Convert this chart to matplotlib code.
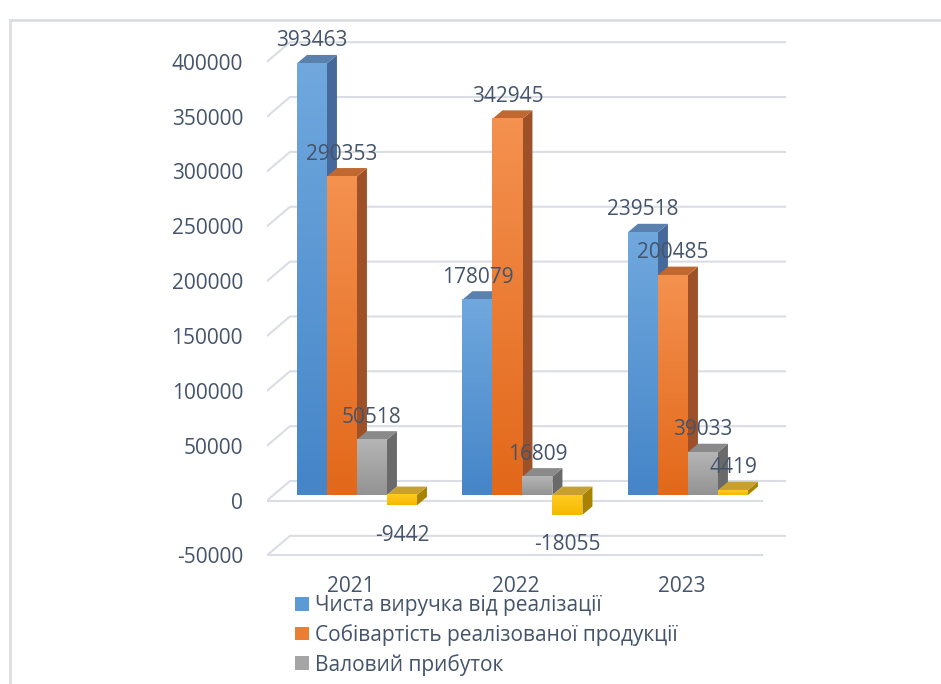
import numpy as np
import matplotlib.pyplot as plt
from matplotlib.patches import Polygon, Rectangle, Patch
from matplotlib.colors import LinearSegmentedColormap

# --- data ---
years = ["2021", "2022", "2023"]
series_names = ["Чиста виручка від реалізації",
                "Собівартість реалізованої продукції",
                "Валовий прибуток",
                "Чистий фінансовий результат"]
revenue = [393463, 178079, 239518]
cost = [290353, 342945, 200485]
gross = [50518, 16809, 39033]
net = [-9442, -18055, 4419]
yticks = list(range(-50000, 400001, 50000))

# front gradient (bottom, top), side, top colours per series
front_cols = [("#4585C8", "#70A8DE"), ("#E2681A", "#F4914F"),
              ("#939393", "#B5B5B5"), ("#F5B800", "#FFCB22")]
side_cols = ["#44699A", "#9E5128", "#6A6A6A", "#A88300"]
top_cols = ["#5A80AE", "#C0682F", "#8A8A8A", "#C8A032"]
legend_cols = ["#5B9BD5", "#ED7D31", "#A5A5A5"]
TXT = "#44546A"
GRID = "#DADDE3"

plt.rcParams["font.family"] = ["Open Sans", "DejaVu Sans"]
FS = 15

W, H = 941, 684
fig = plt.figure(figsize=(W / 100, H / 100), dpi=100)

# layout in pixels -> axes limits
X0PX, XSTEP = 350.5, 165.5      # front-plane centre of first group, group spacing
Y0PX, YSCALE = 500.5, 0.001097  # front-plane zero, px per unit
ax_l, ax_r, ax_t, ax_b = 267, 790, 20, 570
ax = fig.add_axes([ax_l / W, 1 - ax_b / H, (ax_r - ax_l) / W, (ax_b - ax_t) / H])
xlim = ((ax_l - X0PX) / XSTEP, (ax_r - X0PX) / XSTEP)
ylim = ((Y0PX - ax_b) / YSCALE, (Y0PX - ax_t) / YSCALE)

DX = 23 / XSTEP       # wall depth in x units
DY = 19.5 / YSCALE    # wall depth in value units


def proj(x, v, d):
    return (x + d * DX, v + d * DY)


# gridlines: left diagonal + back wall line, front floor lines at 0 and min
xl = xlim[0]
xr = (762 - X0PX) / XSTEP
for v in yticks:
    p0, p1, p2 = proj(xl, v, 0), proj(xl, v, 1), proj(xr, v, 1)
    ax.plot([p0[0], p1[0], p2[0]], [p0[1], p1[1], p2[1]], color=GRID, lw=1.5, zorder=1,
            solid_joinstyle="miter")
for v in (0, yticks[0]):
    p0, p1 = proj(xl, v, 0), proj(xr, v, 0)
    ax.plot([p0[0], p1[0]], [p0[1], p1[1]], color=GRID, lw=1.5, zorder=1)

# bars
bw = 30 / XSTEP
fb = 0.28            # depth position of bar fronts
bd = 10 / 23         # bar depth
series = [revenue, cost, gross, net]
z = 2
for c in range(len(years)):
    for i, vals in enumerate(series):
        v = vals[c]
        left = c - 2 * bw + i * bw
        lo, hi = min(0, v), max(0, v)
        side = [proj(left + bw, lo, fb), proj(left + bw, lo, fb + bd),
                proj(left + bw, hi, fb + bd), proj(left + bw, hi, fb)]
        top = [proj(left, hi, fb), proj(left + bw, hi, fb),
               proj(left + bw, hi, fb + bd), proj(left, hi, fb + bd)]
        ax.add_patch(Polygon(side, closed=True, facecolor=side_cols[i], edgecolor="none", zorder=z))
        ax.add_patch(Polygon(top, closed=True, facecolor=top_cols[i], edgecolor="none", zorder=z))
        fx0, fy0 = proj(left, lo, fb)
        fx1, fy1 = proj(left + bw, hi, fb)
        cmap = LinearSegmentedColormap.from_list("g%d" % i, list(front_cols[i]))
        grad = np.linspace(0, 1, 64).reshape(-1, 1)
        ax.imshow(grad, extent=[fx0, fx1, fy0, fy1], origin="lower", aspect="auto",
                  cmap=cmap, interpolation="bilinear", zorder=z)
        z += 1
        # data label
        if v >= 0:
            ax.annotate(str(v), xy=proj(left + bw / 2, hi, fb), xytext=(0, 12.2),
                        textcoords="offset points", ha="center", va="baseline",
                        fontsize=FS, color=TXT, zorder=100)
        else:
            ax.annotate(str(v), xy=proj(left + bw / 2, lo, fb), xytext=(0, -25.5),
                        textcoords="offset points", ha="center", va="baseline",
                        fontsize=FS, color=TXT, zorder=100)

ax.set_xlim(*xlim)
ax.set_ylim(*ylim)
ax.set_yticks(yticks)
ax.set_yticklabels([str(t) for t in yticks])
ax.set_xticks(range(len(years)))
ax.set_xticklabels(years)
ax.tick_params(axis="y", length=0, pad=17.3, labelsize=FS, labelcolor=TXT)
ax.tick_params(axis="x", length=0, pad=4, labelsize=FS, labelcolor=TXT)
for s in ax.spines.values():
    s.set_visible(False)
ax.patch.set_visible(False)

handles = [Patch(facecolor=legend_cols[i], edgecolor="none", label=series_names[i]) for i in range(3)]
fig.legend(handles=handles, loc="upper left", bbox_to_anchor=(295 / W, 1 - 595 / H),
           frameon=False, fontsize=FS, handlelength=0.65, handleheight=0.65,
           handletextpad=0.3, labelspacing=0.38, borderpad=0, borderaxespad=0,
           labelcolor=TXT)

# chart frame
fig.add_artist(Rectangle((9.5 / W, -0.1), 1.2, 1.1 - 20.5 / H, transform=fig.transFigure,
                         fill=False, edgecolor=GRID, lw=2))

fig.savefig("out.png", dpi=100)
